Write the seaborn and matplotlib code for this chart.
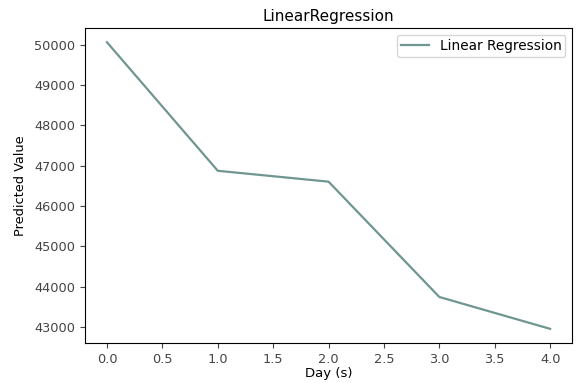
import matplotlib
matplotlib.use("Agg")
import matplotlib.pyplot as plt
import pandas as pd
import seaborn as sns

days = [0, 1, 2, 3, 4]
predicted = [50057, 46870, 46600, 43740, 42950]

df = pd.DataFrame({"Day (s)": days, "Predicted Value": predicted})

fig = plt.figure(figsize=(5.81, 3.83), dpi=100)
ax = fig.add_axes([0.146, 0.104, 0.839, 0.823])

sns.lineplot(data=df, x="Day (s)", y="Predicted Value", ax=ax,
             color="#6f9690", linewidth=1.6, label="Linear Regression")

ax.set_title("LinearRegression", fontsize=11, pad=5)
ax.set_xlabel("Day (s)", fontsize=9.5, labelpad=1)
ax.set_ylabel("Predicted Value", fontsize=9.3, labelpad=5)
ax.tick_params(labelsize=9.3, colors="#444444")
ax.legend(loc="upper right", fontsize=9.8, borderpad=0.3)

fig.savefig("out.png", dpi=100)
